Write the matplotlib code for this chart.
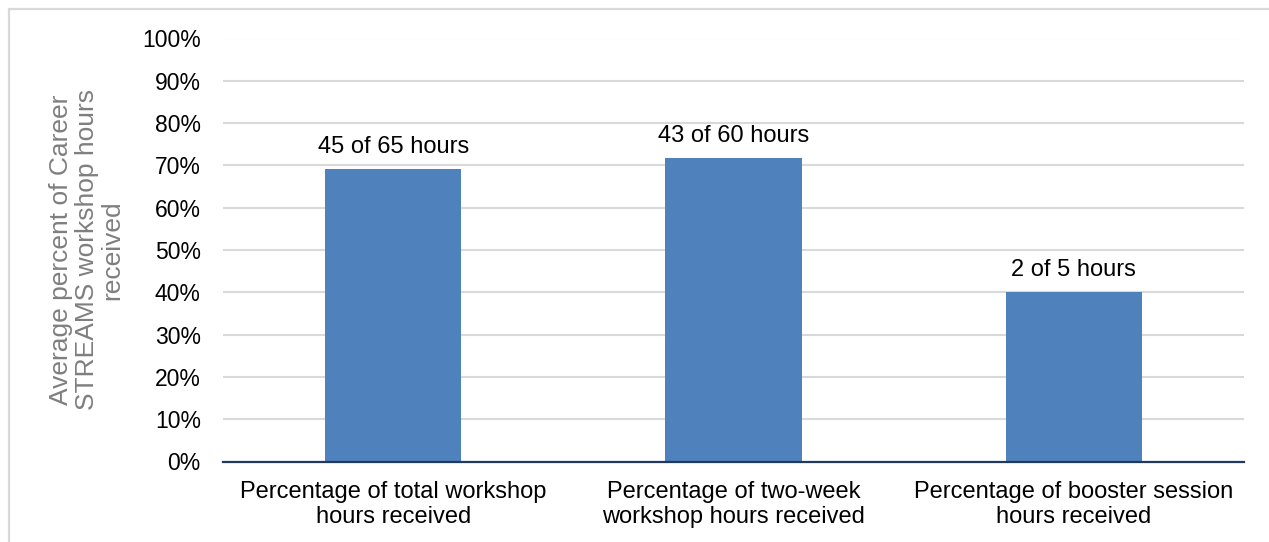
import matplotlib
matplotlib.use("Agg")
import matplotlib.pyplot as plt
from matplotlib.lines import Line2D
from matplotlib.ticker import FuncFormatter

# Workshop attendance data
categories = [
    "Percentage of total workshop\nhours received",
    "Percentage of two-week\nworkshop hours received",
    "Percentage of booster session\nhours received",
]
hours_received = [45, 43, 2]
hours_total = [65, 60, 5]
percent_received = [r / t * 100 for r, t in zip(hours_received, hours_total)]
bar_labels = [f"{r} of {t} hours" for r, t in zip(hours_received, hours_total)]
y_ticks = list(range(0, 101, 10))

plt.rcParams["font.family"] = ["Liberation Sans", "DejaVu Sans"]

W, H = 1269, 542
fig = plt.figure(figsize=(W / 100, H / 100), dpi=100)
fig.patch.set_facecolor("white")

ax = fig.add_axes([223 / W, 1 - 461.5 / H, (1244 - 223) / W, (461.5 - 38.5) / H])

x = list(range(len(categories)))
bars = ax.bar(x, percent_received, width=0.4, color="#4f81bd", zorder=3)

ax.set_xlim(-0.5, len(categories) - 0.5)
ax.set_ylim(0, 100)
ax.set_yticks(y_ticks)
ax.yaxis.set_major_formatter(FuncFormatter(lambda v, _: f"{v:.0f}%"))
ax.set_xticks(x)
ax.set_xticklabels(categories, fontsize=17, linespacing=1.2)

ax.tick_params(axis="y", length=0, pad=16, labelsize=16.5, labelcolor="#000000")
ax.tick_params(axis="x", length=0, pad=14, labelcolor="#000000")

ax.grid(axis="y", color="#d9d9d9", linewidth=1.5, zorder=0)
for side in ("top", "right", "left"):
    ax.spines[side].set_visible(False)
ax.spines["bottom"].set_color("#1f3864")
ax.spines["bottom"].set_linewidth(1.6)
ax.spines["bottom"].set_zorder(4)

for rect, label in zip(bars, bar_labels):
    ax.annotate(label, (rect.get_x() + rect.get_width() / 2, rect.get_height()),
                xytext=(0, 11.5), textcoords="offset points",
                ha="center", va="baseline", fontsize=17, color="#000000")

fig.text(87 / W, 1 - 250 / H,
         "Average percent of Career\nSTREAMS workshop hours\nreceived",
         rotation=90, ha="center", va="center", fontsize=19,
         color="#7f7f7f", linespacing=1.08)

# Light frame around the chart area
frame_color = "#d9d9d9"
fig.add_artist(Line2D([8.5 / W, 8.5 / W], [0, 1 - 9 / H],
                      transform=fig.transFigure, color=frame_color, linewidth=1.6))
fig.add_artist(Line2D([8.5 / W, 1], [1 - 9 / H, 1 - 9 / H],
                      transform=fig.transFigure, color=frame_color, linewidth=1.6))

fig.savefig("out.png", dpi=100, facecolor="white")
